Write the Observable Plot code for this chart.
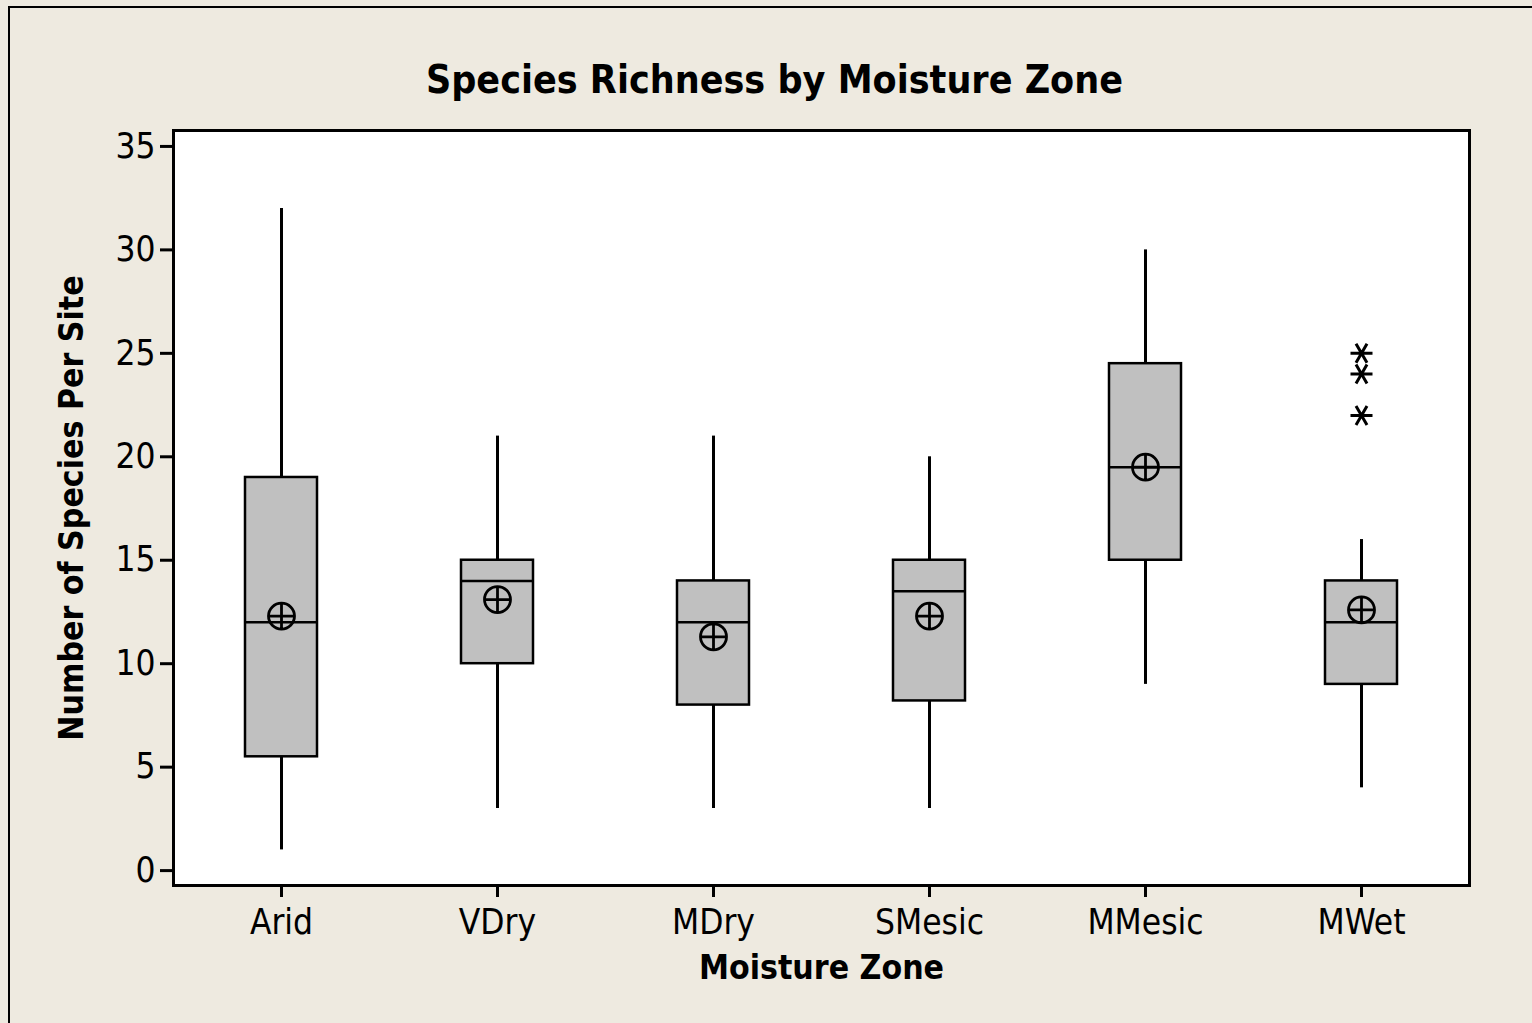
<!DOCTYPE html>
<html>
<head>
<meta charset="utf-8">
<script src="https://cdn.jsdelivr.net/npm/d3@7"></script>
<script src="https://cdn.jsdelivr.net/npm/@observablehq/plot@0.6"></script>
<style>
  html, body { margin: 0; padding: 0; background: #EEEAE0; }
  #wrap { position: relative; width: 1532px; height: 1023px; overflow: hidden; }
  #border { position: absolute; left: 8px; top: 6px; width: 1600px; height: 1100px; border-left: 2px solid #000; border-top: 2px solid #000; pointer-events: none; }
  svg { display: block; }
</style>
</head>
<body>
<div id="wrap"><div id="border"></div></div>
<script>
const zones   = ["Arid", "VDry", "MDry", "SMesic", "MMesic", "MWet"];
const lowW    = [1, 3, 3, 3, 9, 4];
const q1      = [5.5, 10, 8, 8.2, 15, 9];
const medians = [12, 14, 12, 13.5, 19.5, 12];
const q3      = [19, 15, 14, 15, 24.5, 14];
const highW   = [32, 21, 21, 20, 30, 16];
const means   = [12.3, 13.1, 11.3, 12.3, 19.5, 12.6];
const outlierZones  = ["MWet", "MWet", "MWet"];
const outlierValues = [25, 24, 22];
const yTicks = [0, 5, 10, 15, 20, 25, 30, 35];

const data = zones.map((z, i) => ({zone: z, low: lowW[i], q1: q1[i], median: medians[i], q3: q3[i], high: highW[i], mean: means[i]}));
const outliers = outlierZones.map((z, i) => ({zone: z, value: outlierValues[i]}));

const circlePlus = {
  draw(ctx, size) {
    const r = Math.sqrt(size / Math.PI);
    ctx.moveTo(r, 0);
    ctx.arc(0, 0, r, 0, 2 * Math.PI);
    ctx.moveTo(-r, 0); ctx.lineTo(r, 0);
    ctx.moveTo(0, -r); ctx.lineTo(0, r);
  }
};
const star6 = {
  draw(ctx, size) {
    const r = Math.sqrt(size / Math.PI);
    for (const a of [0, Math.PI / 3, 2 * Math.PI / 3]) {
      const dx = r * Math.cos(a), dy = r * Math.sin(a);
      ctx.moveTo(-dx, -dy); ctx.lineTo(dx, dy);
    }
  }
};

const FONT = "'DejaVu Sans Condensed', 'DejaVu Sans', sans-serif";
const inset = 72;

const chart = Plot.plot({
  width: 1532,
  height: 1023,
  marginLeft: 173,
  marginRight: 63,
  marginTop: 130,
  marginBottom: 138,
  style: {background: "transparent", fontFamily: FONT, color: "#000"},
  x: {domain: zones, padding: 0, align: 0.5},
  y: {domain: [-0.72, 35.77]},
  marks: [
    Plot.frame({fill: "white"}),
    Plot.ruleX(data, {x: "zone", y1: "low", y2: "q1", stroke: "black", strokeWidth: 3}),
    Plot.ruleX(data, {x: "zone", y1: "q3", y2: "high", stroke: "black", strokeWidth: 3}),
    Plot.barY(data, {x: "zone", y1: "q1", y2: "q3", fill: "#C0C0C0", stroke: "black", strokeWidth: 2.5, insetLeft: inset, insetRight: inset}),
    Plot.tickY(data, {x: "zone", y: "median", stroke: "black", strokeWidth: 2.5, insetLeft: inset, insetRight: inset}),
    Plot.dot(data, {x: "zone", y: "mean", r: 13, symbol: circlePlus, stroke: "black", strokeWidth: 2.8, fill: "none"}),
    Plot.dot(outliers, {x: "zone", y: "value", r: 11, symbol: star6, stroke: "black", strokeWidth: 3}),
    Plot.axisY({ticks: yTicks, tickSize: 13, tickPadding: 5, strokeWidth: 3, fontSize: 35, label: null}),
    Plot.axisX({tickSize: 12, tickPadding: 12, strokeWidth: 3, fontSize: 35, label: null}),
    Plot.frame({stroke: "black", strokeWidth: 3}),
    Plot.text(["Species Richness by Moisture Zone"], {frameAnchor: "top", dx: -47, dy: -50, fontSize: 39, fontWeight: "bold", lineAnchor: "middle", textAnchor: "middle", fill: "black"}),
    Plot.text(["Moisture Zone"], {frameAnchor: "bottom", dy: 83, fontSize: 33.5, fontWeight: "bold", lineAnchor: "middle", textAnchor: "middle", fill: "black"}),
    Plot.text(["Number of Species Per Site"], {frameAnchor: "left", dx: -101, rotate: -90, fontSize: 33.5, fontWeight: "bold", lineAnchor: "middle", textAnchor: "middle", fill: "black"})
  ]
});
document.getElementById("wrap").insertBefore(chart, document.getElementById("border"));
</script>
</body>
</html>
